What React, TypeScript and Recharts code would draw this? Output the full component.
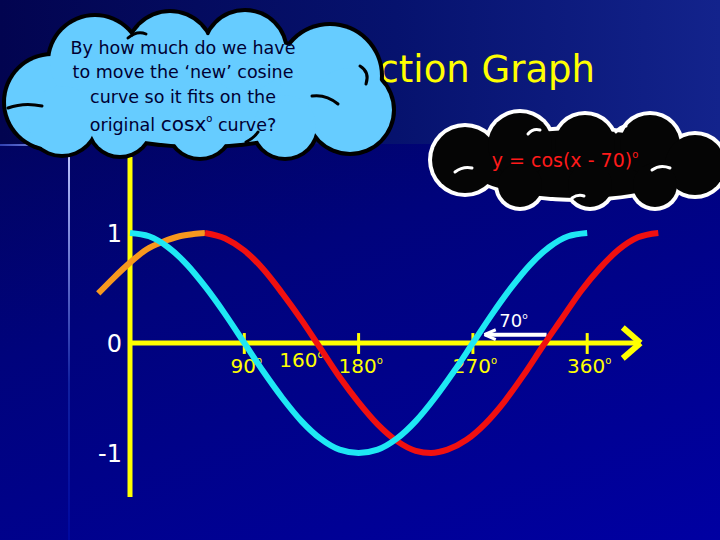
import React from "react";
import { LineChart, Line, XAxis, YAxis, ReferenceLine, ReferenceDot } from "recharts";

// curve samples (degrees -> value)
const cyanDeg = [0, 15, 30, 45, 60, 75, 90, 105, 120, 135, 150, 165, 180, 195, 210, 225, 240, 255, 270, 285, 300, 315, 330, 345, 360];
const cyanVal = [1, 0.97, 0.87, 0.71, 0.5, 0.26, 0, -0.26, -0.5, -0.71, -0.87, -0.97, -1, -0.97, -0.87, -0.71, -0.5, -0.26, 0, 0.26, 0.5, 0.71, 0.87, 0.97, 1];

const redDeg = [59, 75, 90, 105, 120, 135, 150, 165, 180, 195, 210, 225, 237, 250, 265, 280, 295, 310, 325, 340, 355, 370, 385, 400, 416];
const redVal = [1, 0.95, 0.84, 0.67, 0.45, 0.21, -0.05, -0.31, -0.54, -0.74, -0.89, -0.98, -1, -0.97, -0.88, -0.73, -0.53, -0.29, -0.03, 0.22, 0.47, 0.68, 0.85, 0.96, 1];

const orangeDeg = [-25, -13, 0, 13, 26, 39, 50, 59];
const orangeVal = [0.45, 0.59, 0.73, 0.85, 0.92, 0.97, 0.99, 1];

const tickDeg = [90, 180, 270, 360];
const tickLabels = ["90", "180", "270", "360"];
const yTicks = [1, 0, -1];
const yTickLabels = ["1", "0", "-1"];

const zip = (xs: number[], ys: number[]) => xs.map((x, i) => ({ x, y: ys[i] }));
const cyanData = zip(cyanDeg, cyanVal);
const redData = zip(redDeg, redVal);
const orangeData = zip(orangeDeg, orangeVal);

const FONT = "'Comic Sans MS', 'DejaVu Sans', sans-serif";
const YELLOW = "#ffff00";
const X_DOMAIN = [-31.5, 425.2];
const Y_DOMAIN = [-1.4, 1.69];
const MARGIN = { top: 157, bottom: 43, left: 90, right: 50 };

const degText = (text: string, dx: number, dy: number, color: string, size: number) => (props: any) => {
  const vb = props.viewBox || {};
  return (
    <text x={vb.x + dx} y={vb.y + dy} fill={color} fontSize={size} fontFamily={FONT} textAnchor="middle">
      {text}
      <tspan fontSize={size * 0.5} dy={-size * 0.45}>o</tspan>
    </text>
  );
};

const plainText = (text: string, dx: number, dy: number) => (props: any) => {
  const vb = props.viewBox || {};
  return (
    <text x={vb.x + dx} y={vb.y + dy} fill="#ffffff" fontSize={24} fontFamily={FONT} textAnchor="end">
      {text}
    </text>
  );
};

type Bump = [number, number, number];
type Core = [number, number, number, number];

const blueBumps: Bump[] = [
  [52, 102, 46], [95, 62, 45], [170, 55, 42], [245, 52, 40], [330, 76, 50],
  [350, 110, 42], [285, 126, 31], [200, 126, 31], [120, 125, 30], [62, 120, 34],
];
const blueCore: Core = [200, 90, 150, 55];
const blueCurls = [
  "M128 38 Q137 30 146 34",
  "M360 66 Q370 72 366 84",
  "M312 96 Q326 94 338 104",
  "M8 108 Q24 102 42 106",
  "M246 142 Q254 138 258 132",
];
const blackBumps: Bump[] = [
  [465, 160, 33], [520, 145, 32], [585, 145, 30], [650, 145, 30], [695, 165, 30],
  [655, 185, 22], [590, 185, 22], [520, 185, 22],
];
const blackCore: Core = [578, 164, 112, 34];
const blackCurls = [
  "M455 172 Q463 166 472 168",
  "M528 134 Q533 128 540 130",
  "M616 132 Q620 126 626 126",
  "M652 170 Q660 164 670 168",
  "M572 198 Q578 194 584 196",
];

const Cloud = ({ bumps, core, curls, fill, stroke, sw }: { bumps: Bump[]; core: Core; curls: string[]; fill: string; stroke: string; sw: number }) => (
  <g>
    <ellipse cx={core[0]} cy={core[1]} rx={core[2] + sw} ry={core[3] + sw} fill={stroke} />
    {bumps.map(([cx, cy, r], i) => (
      <circle key={"o" + i} cx={cx} cy={cy} r={r + sw} fill={stroke} />
    ))}
    <ellipse cx={core[0]} cy={core[1]} rx={core[2]} ry={core[3]} fill={fill} />
    {bumps.map(([cx, cy, r], i) => (
      <circle key={"f" + i} cx={cx} cy={cy} r={r} fill={fill} />
    ))}
    {curls.map((d, i) => (
      <path key={"c" + i} d={d} fill="none" stroke={stroke} strokeWidth={3} strokeLinecap="round" />
    ))}
  </g>
);

const Frame = ({ children }: { children: React.ReactNode }) => (
  <div style={{ position: "absolute", left: 0, top: 0 }}>
    <LineChart width={720} height={540} margin={MARGIN}>
      <XAxis type="number" dataKey="x" domain={X_DOMAIN} hide allowDataOverflow />
      <YAxis type="number" domain={Y_DOMAIN} hide allowDataOverflow />
      {children}
    </LineChart>
  </div>
);

export default function App() {
  return (
    <div
      style={{
        position: "absolute",
        left: 0,
        top: 0,
        width: 720,
        height: 540,
        overflow: "hidden",
        background: "linear-gradient(160deg, #020450 0%, #00037c 45%, #0000a2 100%)",
      }}
    >
      <div
        style={{
          position: "absolute",
          left: 0,
          top: 0,
          width: 720,
          height: 144,
          background: "linear-gradient(90deg, #020450 0%, #06126e 55%, #13238c 100%)",
        }}
      />
      <div style={{ position: "absolute", left: 0, top: 144, width: 62, height: 2, background: "linear-gradient(90deg, #3040b0, #a0b0ff)" }} />
      <div style={{ position: "absolute", left: 68, top: 148, width: 2, height: 392, background: "linear-gradient(180deg, #c0c8ff, #1020a0 60%, #0008a0)" }} />

      {/* axes layer (under the curves) */}
      <Frame>
        <ReferenceLine segment={[{ x: 0, y: -1.4 }, { x: 0, y: 1.69 }]} stroke={YELLOW} strokeWidth={5} />
        <ReferenceLine segment={[{ x: 0, y: 0 }, { x: 401, y: 0 }]} stroke={YELLOW} strokeWidth={5} />
        <ReferenceLine segment={[{ x: 402, y: 0 }, { x: 388, y: 0.14 }]} stroke={YELLOW} strokeWidth={6} />
        <ReferenceLine segment={[{ x: 402, y: 0 }, { x: 388, y: -0.14 }]} stroke={YELLOW} strokeWidth={6} />
        {tickDeg.map((d, i) => (
          <ReferenceLine
            key={d}
            segment={[{ x: d, y: -0.1 }, { x: d, y: 0.09 }]}
            stroke={YELLOW}
            strokeWidth={3}
            label={degText(tickLabels[i], 2, 40, YELLOW, 20)}
          />
        ))}
        <ReferenceDot x={135} y={0} r={0} fill="none" stroke="none" label={degText("160", 0, 24, YELLOW, 20)} />
        {yTicks.map((v, i) => (
          <ReferenceDot key={v} x={0} y={v} r={0} fill="none" stroke="none" label={plainText(yTickLabels[i], -8, 9)} />
        ))}
        <ReferenceLine segment={[{ x: 280, y: 0.075 }, { x: 328, y: 0.075 }]} stroke="#ffffff" strokeWidth={4} />
        <ReferenceLine segment={[{ x: 279, y: 0.075 }, { x: 288, y: 0.12 }]} stroke="#ffffff" strokeWidth={3} />
        <ReferenceLine segment={[{ x: 279, y: 0.075 }, { x: 288, y: 0.03 }]} stroke="#ffffff" strokeWidth={3} />
        <ReferenceDot x={302} y={0.2} r={0} fill="none" stroke="none" label={degText("70", 0, 6, "#ffffff", 18)} />
      </Frame>

      {/* curves layer */}
      <Frame>
        <Line data={orangeData} dataKey="y" type="monotone" stroke="#f7981e" strokeWidth={6} dot={false} isAnimationActive={false} />
        <Line data={redData} dataKey="y" type="monotone" stroke="#f01010" strokeWidth={6} dot={false} isAnimationActive={false} />
        <Line data={cyanData} dataKey="y" type="monotone" stroke="#1ee8f4" strokeWidth={6} dot={false} isAnimationActive={false} />
      </Frame>

      <svg width={720} height={540} style={{ position: "absolute", left: 0, top: 0, pointerEvents: "none" }}>
        <text x={595} y={82} fill={YELLOW} fontSize={37} fontFamily={FONT} textAnchor="end">
          ction Graph
        </text>
        <Cloud bumps={blueBumps} core={blueCore} curls={blueCurls} fill="#66ccff" stroke="#000000" sw={4} />
        <g fill="#000033" fontFamily={FONT} fontSize={17.5} textAnchor="middle">
          <text x={183} y={54}>By how much do we have</text>
          <text x={183} y={78}>to move the ‘new’ cosine</text>
          <text x={183} y={103}>curve so it fits on the</text>
          <text x={183} y={131}>
            original <tspan fontSize={20}>cosx</tspan>
            <tspan fontSize={10} dy={-9}>o</tspan>
            <tspan dy={9}> curve?</tspan>
          </text>
        </g>
        <Cloud bumps={blackBumps} core={blackCore} curls={blackCurls} fill="#050505" stroke="#ffffff" sw={4} />
        <text x={565} y={167} fill="#ff1a1a" fontSize={19} fontFamily={FONT} textAnchor="middle">
          y = cos(x - 70)
          <tspan fontSize={10} dy={-9}>o</tspan>
        </text>
      </svg>
    </div>
  );
}
